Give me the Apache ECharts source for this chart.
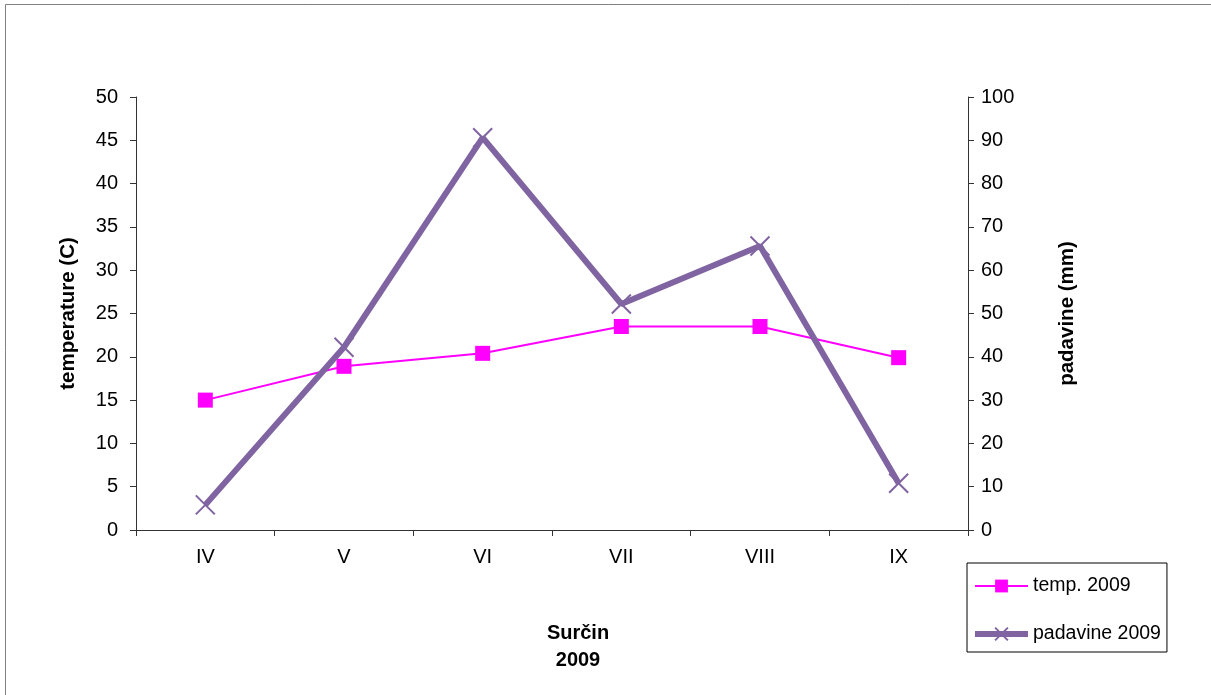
<!DOCTYPE html>
<html>
<head>
<meta charset="utf-8">
<script src="https://cdn.jsdelivr.net/npm/echarts@6/dist/echarts.min.js"></script>
<style>
  html, body { margin: 0; padding: 0; background: #fff; }
  #chart { width: 1211px; height: 695px; }
</style>
</head>
<body>
<div id="chart"></div>
<script>
// Months (April – September)
const months = ['IV', 'V', 'VI', 'VII', 'VIII', 'IX'];
// Mean monthly temperature, °C
const temp2009 = [15, 18.9, 20.4, 23.5, 23.5, 19.9];
// Monthly precipitation, mm
const padavine2009 = [5.8, 42.2, 90.6, 52.2, 65.6, 10.8];
// Axis tick settings
const tempTicks = { min: 0, max: 50, interval: 5 };
const rainTicks = { min: 0, max: 100, interval: 10 };

const FONT = '"Liberation Sans", Arial, sans-serif';
const AXIS_COLOR = '#333';
const crossSymbol = 'path://M0,0 L10,10 M10,0 L0,10';

const chart = echarts.init(document.getElementById('chart'), null, { renderer: 'canvas' });

chart.setOption({
  animation: false,
  backgroundColor: '#fff',
  textStyle: { fontFamily: FONT },
  grid: { left: 136, right: 243, top: 97, bottom: 165, containLabel: false },
  xAxis: {
    type: 'category',
    data: months,
    boundaryGap: true,
    axisLine: { lineStyle: { color: AXIS_COLOR, width: 1 } },
    axisTick: { show: true, inside: false, length: 6, alignWithLabel: false, lineStyle: { color: AXIS_COLOR } },
    axisLabel: { color: '#000', fontSize: 20, fontFamily: FONT, margin: 17 },
    splitLine: { show: false }
  },
  yAxis: [
    {
      type: 'value',
      position: 'left',
      min: tempTicks.min, max: tempTicks.max, interval: tempTicks.interval,
      name: 'temperature (C)',
      nameLocation: 'middle',
      nameGap: 57,
      nameRotate: 90,
      nameTextStyle: { color: '#000', fontSize: 20.5, fontWeight: 'bold', fontFamily: FONT },
      axisLine: { show: true, lineStyle: { color: AXIS_COLOR, width: 1 } },
      axisTick: { show: true, length: 6, lineStyle: { color: AXIS_COLOR } },
      axisLabel: { color: '#000', fontSize: 20, fontFamily: FONT, margin: 18 },
      splitLine: { show: false }
    },
    {
      type: 'value',
      position: 'right',
      min: rainTicks.min, max: rainTicks.max, interval: rainTicks.interval,
      name: 'padavine (mm)',
      nameLocation: 'middle',
      nameGap: 89,
      nameRotate: 90,
      nameTextStyle: { color: '#000', fontSize: 20.5, fontWeight: 'bold', fontFamily: FONT },
      axisLine: { show: true, lineStyle: { color: AXIS_COLOR, width: 1 } },
      axisTick: { show: true, length: 6, lineStyle: { color: AXIS_COLOR } },
      axisLabel: { color: '#000', fontSize: 20, fontFamily: FONT, margin: 13 },
      splitLine: { show: false }
    }
  ],
  legend: {
    orient: 'vertical',
    left: 967,
    top: 563,
    padding: [13, 6, 8, 5],
    itemWidth: 53,
    itemHeight: 16,
    itemGap: 28,
    borderColor: '#000',
    borderWidth: 1,
    textStyle: { color: '#000', fontSize: 19.5, fontFamily: FONT },
    data: [
      { name: 'temp. 2009', lineStyle: { width: 2 } },
      { name: 'padavine 2009', lineStyle: { width: 6 } }
    ]
  },
  graphic: [
    {
      type: 'rect',
      silent: true,
      shape: { x: 5.5, y: 4.5, width: 1400, height: 900 },
      style: { fill: 'none', stroke: '#808080', lineWidth: 1 }
    },
    {
      type: 'text',
      silent: true,
      x: 578,
      y: 620,
      style: {
        text: 'Surčin\n2009',
        textAlign: 'center',
        fill: '#000',
        font: 'bold 20px ' + FONT,
        lineHeight: 27
      }
    }
  ],
  series: [
    {
      name: 'temp. 2009',
      type: 'line',
      yAxisIndex: 0,
      data: temp2009,
      symbol: 'rect',
      symbolSize: 15,
      showAllSymbol: true,
      lineStyle: { color: '#FF00FF', width: 2 },
      itemStyle: { color: '#FF00FF', borderColor: '#FF00FF', borderWidth: 0 },
      z: 2
    },
    {
      name: 'padavine 2009',
      type: 'line',
      yAxisIndex: 1,
      data: padavine2009,
      symbol: crossSymbol,
      symbolSize: 19,
      showAllSymbol: true,
      lineStyle: { color: '#8064A2', width: 6 },
      itemStyle: { color: '#8064A2', borderColor: '#8064A2', borderWidth: 2 },
      z: 3
    }
  ]
});
</script>
</body>
</html>
